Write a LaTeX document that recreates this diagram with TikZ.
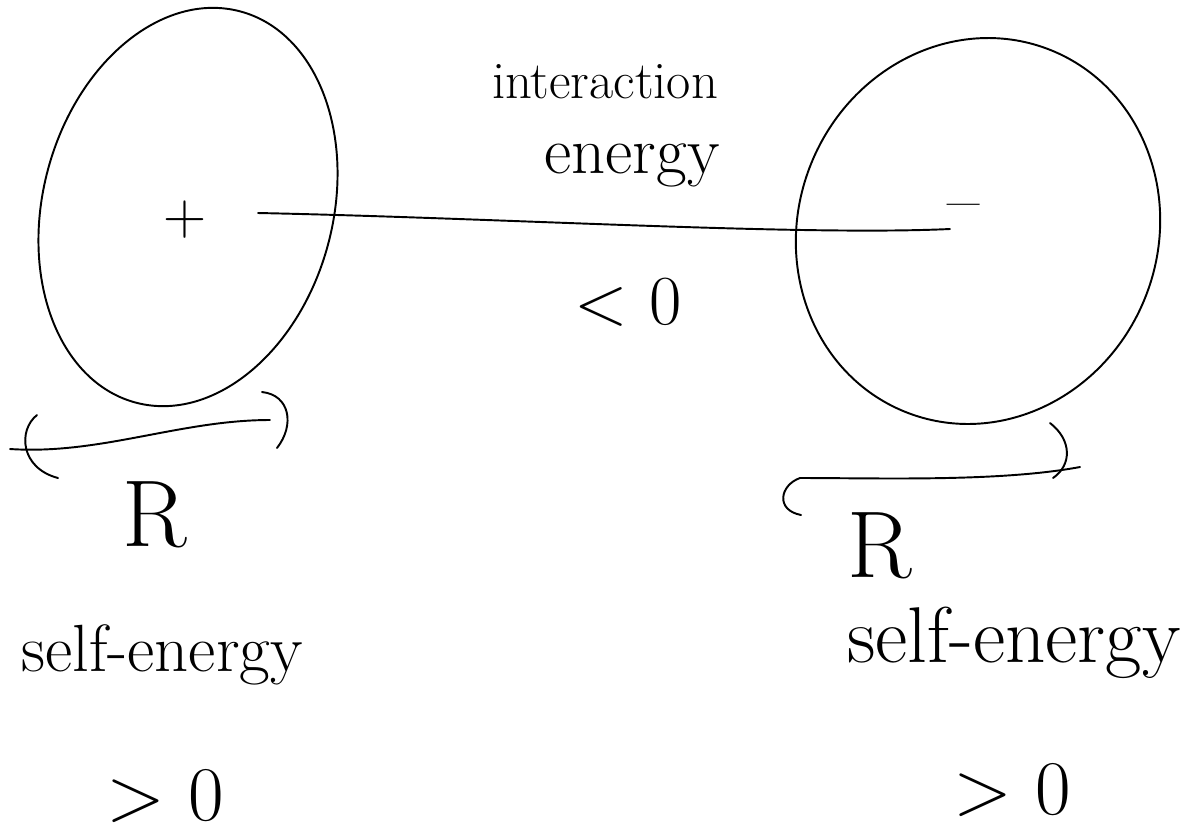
\documentclass[tikz,border=0pt]{standalone}
\usepackage{fontspec}
\setmainfont{Latin Modern Roman}
\usetikzlibrary{shapes.geometric}
\begin{document}
\begin{tikzpicture}[x=0.02cm,y=-0.02cm,
  stroke/.style={line width=1.1pt, line cap=round, line join=round},
  blob/.style={ellipse, draw, line width=1.1pt, inner sep=0pt},
  lbl/.style={inner sep=0pt, anchor=center}]
\useasboundingbox (0,0) rectangle (1195,839);
% circles
\node[blob, minimum width=5.8cm, minimum height=8.1cm, rotate=-15] (lc) at (188,207) {};
\node[blob, minimum width=7.2cm, minimum height=7.8cm, rotate=-22] (rc) at (978,231) {};
% charges
\node[lbl, font=\fontsize{34}{40}\selectfont] (plus) at (185,220) {+};
\node[lbl, font=\fontsize{40}{46}\selectfont] (minus) at (964,214) {–};
% interaction line
\coordinate (ls) at (258,213);
\coordinate (le) at (950,229);
\draw[stroke] (ls) .. controls (500,218) and (800,236) .. (le);
% interaction labels
\node[lbl, font=\fontsize{30}{34}\selectfont] (int1) at (605,82) {interaction};
\node[lbl, font=\fontsize{38}{42}\selectfont] (int2) at (632,165) {energy};
\node[lbl, font=\fontsize{40}{46}\selectfont] (lt) at (628,302) {< 0};
% left bracket
\coordinate (la1) at (37,415);
\coordinate (la2) at (58,478);
\draw[stroke] (la1) .. controls (18,430) and (20,468) .. (la2);
\coordinate (ll1) at (10,449);
\coordinate (ll2) at (270,420);
\draw[stroke] (ll1) .. controls (100,455) and (180,420) .. (ll2);
\coordinate (lb1) at (262,392);
\coordinate (lb2) at (277,448);
\draw[stroke] (lb1) .. controls (290,395) and (295,425) .. (lb2);
\node[lbl, font=\fontsize{54}{60}\selectfont] (lR) at (155,515) {R};
% right bracket
\coordinate (ra1) at (1050,423);
\coordinate (ra2) at (1053,478);
\draw[stroke] (ra1) .. controls (1072,440) and (1072,465) .. (ra2);
\coordinate (rl1) at (1080,467);
\coordinate (rl2) at (800,478);
\draw[stroke] (rl1) .. controls (1000,482) and (880,478) .. (rl2);
\coordinate (rb2) at (801,515);
\draw[stroke] (rl2) .. controls (780,485) and (775,510) .. (rb2);
\node[lbl, font=\fontsize{54}{60}\selectfont] (rR) at (880,546) {R};
% self-energy labels
\node[lbl, font=\fontsize{38}{44}\selectfont] (lse) at (162,655) {self-energy};
\node[lbl, font=\fontsize{44}{50}\selectfont] (lgt) at (165,796) {> 0};
\node[lbl, font=\fontsize{45}{50}\selectfont] (rse) at (1014,643) {self-energy};
\node[lbl, font=\fontsize{44}{50}\selectfont] (rgt) at (1012,790) {> 0};
\end{tikzpicture}
\end{document}
